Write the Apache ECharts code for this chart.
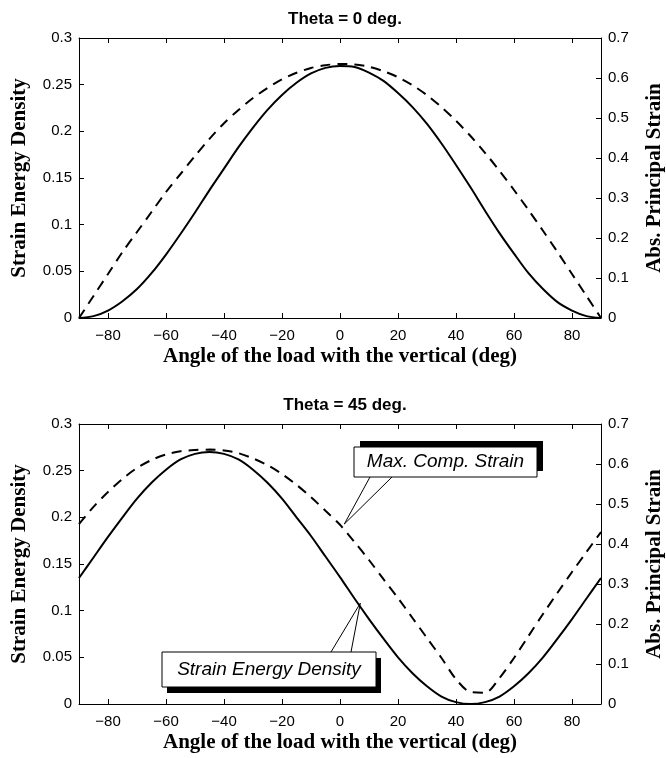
<!DOCTYPE html>
<html>
<head>
<meta charset="utf-8">
<script src="https://cdn.jsdelivr.net/npm/echarts@6/dist/echarts.min.js"></script>
<style>
  html, body { margin: 0; padding: 0; background: #fff; }
  #chart { width: 666px; height: 758px; }
</style>
</head>
<body>
<div id="chart"></div>
<script>
// angle of the load (deg), every 5 deg
var angles = [-90, -85, -80, -75, -70, -65, -60, -55, -50, -45, -40, -35, -30, -25, -20, -15, -10, -5,
  0, 5, 10, 15, 20, 25, 30, 35, 40, 45, 50, 55, 60, 65, 70, 75, 80, 85, 90];

// Theta = 0 deg
var sedTheta0 = [0, 0.002, 0.008, 0.018, 0.031, 0.048, 0.068, 0.090, 0.113, 0.137, 0.160, 0.183, 0.204, 0.223, 0.239, 0.252, 0.262, 0.268,
  0.270, 0.269, 0.263, 0.254, 0.241, 0.226, 0.208, 0.187, 0.164, 0.140, 0.115, 0.091, 0.069, 0.048, 0.031, 0.017, 0.008, 0.002, 0];
var strainTheta0 = [0, 0.055, 0.11, 0.165, 0.215, 0.265, 0.315, 0.36, 0.405, 0.448, 0.487, 0.52, 0.55, 0.575, 0.597, 0.613, 0.625, 0.632,
  0.635, 0.634, 0.628, 0.617, 0.602, 0.582, 0.557, 0.527, 0.493, 0.455, 0.413, 0.368, 0.32, 0.27, 0.218, 0.165, 0.11, 0.055, 0];

// Theta = 45 deg
var sedTheta45 = [0.135, 0.157, 0.179, 0.200, 0.220, 0.237, 0.251, 0.262, 0.268, 0.270, 0.268, 0.262, 0.251, 0.237, 0.220, 0.200, 0.180, 0.158,
  0.136, 0.113, 0.091, 0.070, 0.050, 0.033, 0.019, 0.008, 0.002, 0, 0.002, 0.008, 0.019, 0.033, 0.050, 0.070, 0.091, 0.113, 0.135];
var strainTheta45 = [0.45, 0.493, 0.53, 0.563, 0.59, 0.61, 0.624, 0.632, 0.635, 0.636, 0.634, 0.627, 0.614, 0.597, 0.575, 0.548, 0.517, 0.483,
  0.448, 0.405, 0.36, 0.312, 0.265, 0.215, 0.165, 0.115, 0.062, 0.03, 0.028, 0.065, 0.115, 0.17, 0.225, 0.278, 0.33, 0.38, 0.43];

var xTicks = [-80, -60, -40, -20, 0, 20, 40, 60, 80];
var leftTicks = [0, 0.05, 0.1, 0.15, 0.2, 0.25, 0.3];
var rightTicks = [0, 0.1, 0.2, 0.3, 0.4, 0.5, 0.6, 0.7];
var titles = ["Theta = 0 deg.", "Theta = 45 deg."];

var sans = "Liberation Sans";
var serif = "Liberation Serif";

function fmt(v) {
  var s = String(+v.toFixed(2));
  return v < 0 ? s.replace("-", "\u2212") : s;
}

var gridTops = [38, 424];
var plotH = 280;

var axisLine = { show: true, onZero: false, lineStyle: { color: "#000", width: 1 } };
var tickStyle = { color: "#000", width: 1 };
var labelFont = { fontFamily: sans, fontSize: 15, color: "#000" };
var nameFont = { fontFamily: serif, fontSize: 21, fontWeight: "bold", color: "#000" };

var grids = [], xAxes = [], yAxes = [], titleList = [];
gridTops.forEach(function (top, g) {
  grids.push({ left: 79, right: 65, top: top, height: plotH, containLabel: false, outerBoundsMode: "none" });
  titleList.push({
    text: titles[g], left: 340, textAlign: "center", top: top - 32,
    textStyle: { fontFamily: sans, fontSize: 17, fontWeight: "bold", color: "#000" },
  });
  // bottom x axis
  xAxes.push({
    type: "value", gridIndex: g, min: -90, max: 90, position: "bottom",
    name: "Angle of the load with the vertical (deg)", nameLocation: "middle", nameGap: 28,
    nameTextStyle: nameFont,
    axisLine: axisLine,
    axisTick: { inside: true, length: 5, customValues: xTicks, lineStyle: tickStyle },
    axisLabel: Object.assign({ customValues: xTicks, formatter: fmt, margin: 10 }, labelFont),
    splitLine: { show: false },
  });
  // top box edge
  xAxes.push({
    type: "value", gridIndex: g, min: -90, max: 90, position: "top",
    axisLine: axisLine,
    axisTick: { inside: true, length: 5, customValues: xTicks, lineStyle: tickStyle },
    axisLabel: { show: false },
    splitLine: { show: false },
  });
  yAxes.push({
    type: "value", gridIndex: g, min: 0, max: 0.3, position: "left",
    name: "Strain Energy Density", nameLocation: "middle", nameGap: 49, nameRotate: 90,
    nameTextStyle: nameFont,
    axisLine: axisLine,
    axisTick: { show: true, inside: true, length: 5, customValues: leftTicks, lineStyle: tickStyle },
    axisLabel: Object.assign({ customValues: leftTicks, formatter: fmt, margin: 7 }, labelFont),
    splitLine: { show: false },
  });
  yAxes.push({
    type: "value", gridIndex: g, min: 0, max: 0.7, position: "right",
    name: "Abs. Principal Strain", nameLocation: "middle", nameGap: 43, nameRotate: 90,
    nameTextStyle: nameFont,
    axisLine: axisLine,
    axisTick: { show: true, inside: true, length: 5, customValues: rightTicks, lineStyle: tickStyle },
    axisLabel: Object.assign({ customValues: rightTicks, formatter: fmt, margin: 7 }, labelFont),
    splitLine: { show: false },
  });
});

function pairs(vals) {
  return angles.map(function (a, i) { return [a, vals[i]]; });
}

function line(name, vals, xi, yi, dashed) {
  return {
    name: name, type: "line", xAxisIndex: xi, yAxisIndex: yi,
    data: pairs(vals), showSymbol: false, symbol: "none", smooth: 0.3,
    lineStyle: { color: "#000", width: 2, type: dashed ? [10, 7] : "solid" },
    z: 3,
  };
}

var series = [
  line("SED 0", sedTheta0, 0, 0, false),
  line("Strain 0", strainTheta0, 0, 1, true),
  line("SED 45", sedTheta45, 2, 2, false),
  line("Strain 45", strainTheta45, 2, 3, true),
];

var chart = echarts.init(document.getElementById("chart"), null, { renderer: "canvas" });
chart.setOption({
  animation: false,
  backgroundColor: "#fff",
  title: titleList,
  grid: grids,
  xAxis: xAxes,
  yAxis: yAxes,
  series: series,
});

// callout boxes on the Theta = 45 plot
var tipStrain = chart.convertToPixel({ xAxisIndex: 2, yAxisIndex: 3 }, [1.5, 0.45]);
var tipSed = chart.convertToPixel({ xAxisIndex: 2, yAxisIndex: 2 }, [7, 0.108]);

function callout(box, shadowDx, shadowDy, text, baseY, bx1, bx2, tip) {
  return [
    { type: "polyline", shape: { points: [[bx1, baseY], tip, [bx2, baseY]] },
      style: { stroke: "#000", lineWidth: 1, fill: null }, z: 10 },
    { type: "rect", shape: { x: box.x + shadowDx, y: box.y + shadowDy, width: box.w, height: box.h },
      style: { fill: "#000" }, z: 11 },
    { type: "rect", shape: { x: box.x, y: box.y, width: box.w, height: box.h },
      style: { fill: "#fff", stroke: "#000", lineWidth: 1 }, z: 12 },
    { type: "text", x: box.x + box.w / 2, y: box.y + box.h / 2,
      style: { text: text, fill: "#000", font: "italic 19px " + sans, align: "center", verticalAlign: "middle" }, z: 13 },
  ];
}

var maxBox = { x: 354, y: 447, w: 183, h: 30 };
var sedBox = { x: 162, y: 652, w: 214, h: 35 };
var graphics = []
  .concat(callout(maxBox, 6, -6, "Max. Comp. Strain", maxBox.y + maxBox.h, 370, 392, tipStrain))
  .concat(callout(sedBox, 5, 6, "Strain Energy Density", sedBox.y, 331, 351, tipSed));

chart.setOption({ graphic: { elements: graphics } });
</script>
</body>
</html>
